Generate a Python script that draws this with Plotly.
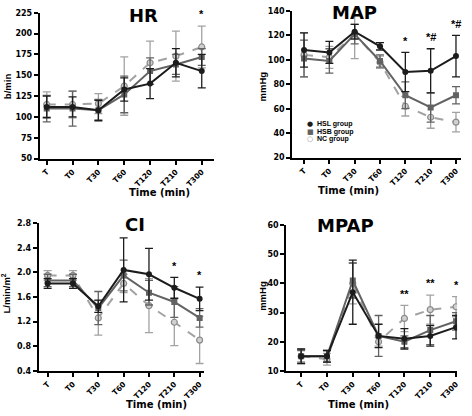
import plotly.graph_objects as go

times = ["T", "T0", "T30", "T60", "T120", "T210", "T300"]
groups = ["HSL group", "HSB group", "NC group"]

hr_hsl = [112, 112, 108, 133, 140, 165, 155]
hr_hsb = [110, 110, 108, 127, 155, 163, 172]
hr_nc = [115, 115, 116, 137, 165, 173, 184]
hr_hsl_err = [13, 12, 12, 14, 18, 17, 20]
hr_hsb_err = [16, 21, 13, 22, 16, 12, 10]
hr_nc_err = [15, 16, 12, 35, 26, 30, 25]
hr_sig = ["", "", "", "", "", "", "*"]

map_hsl = [108, 106, 123, 111, 90, 91, 103]
map_hsb = [101, 99, 121, 99, 71, 61, 71]
map_nc = [104, 102, 121, 98, 62, 53, 49]
map_hsl_err = [14, 9, 6, 3, 16, 18, 17]
map_hsb_err = [15, 10, 8, 5, 11, 12, 7]
map_nc_err = [18, 9, 20, 5, 8, 9, 8]
map_sig = ["", "", "", "", "*", "*#", "*#"]

ci_hsl = [1.82, 1.82, 1.45, 2.04, 1.97, 1.75, 1.57]
ci_hsb = [1.87, 1.87, 1.42, 1.95, 1.67, 1.52, 1.26]
ci_nc = [1.95, 1.95, 1.26, 1.82, 1.46, 1.19, 0.90]
ci_hsl_err = [0.08, 0.08, 0.10, 0.52, 0.42, 0.17, 0.19]
ci_hsb_err = [0.10, 0.10, 0.27, 0.25, 0.20, 0.25, 0.15]
ci_nc_err = [0.08, 0.08, 0.28, 0.15, 0.44, 0.38, 0.38]
ci_sig = ["", "", "", "", "", "*", "*"]

mpap_hsl = [15, 15, 37, 22, 21, 22, 25]
mpap_hsb = [15, 15, 41, 22, 20, 24, 27]
mpap_nc = [15, 14, 40, 20, 28, 31, 32]
mpap_hsl_err = [2.5, 2, 11, 4, 3.5, 3.5, 4]
mpap_hsb_err = [2, 2, 6, 7, 2, 5, 3]
mpap_nc_err = [2.5, 2, 7, 1.5, 4.5, 5, 3.5]
mpap_sig = ["", "", "", "", "**", "**", "*"]

FONT = "Liberation Sans"
HEAVY = "DejaVu Sans"
C_HSL = "#1c1c1c"
C_HSB = "#626262"
C_NC = "#a2a2a2"

panels = [
    dict(title="HR", ytitle="b/min", yr=[50, 225], dt=25, fmt="d",
         data=[(hr_nc, hr_nc_err), (hr_hsb, hr_hsb_err), (hr_hsl, hr_hsl_err)], sig=hr_sig,
         xd=[40/472, 215/472], yd=[1-158/416, 1-9/416], xr=[-0.27, 6.46],
         tpos=(128, 12), ytpos=(7, 84), xtpos=(128, 193)),
    dict(title="MAP", ytitle="mmHg", yr=[20, 140], dt=20, fmt="d",
         data=[(map_nc, map_nc_err), (map_hsb, map_hsb_err), (map_hsl, map_hsl_err)], sig=map_sig,
         xd=[294/472, 464/472], yd=[1-157/416, 1-7/416], xr=[-0.47, 6.2],
         tpos=(381, 9), ytpos=(264, 84), xtpos=(383, 191)),
    dict(title="CI", ytitle="L/min/m<sup>2</sup>", yr=[0.4, 2.8], dt=0.4, fmt=".1f",
         data=[(ci_nc, ci_nc_err), (ci_hsb, ci_hsb_err), (ci_hsl, ci_hsl_err)], sig=ci_sig,
         xd=[39/472, 205/472], yd=[1-375/416, 1-224/416], xr=[-0.35, 6.16],
         tpos=(124, 225), ytpos=(6, 296), xtpos=(125, 409)),
    dict(title="MPAP", ytitle="mmHg", yr=[10, 60], dt=10, fmt="d",
         data=[(mpap_nc, mpap_nc_err), (mpap_hsb, mpap_hsb_err), (mpap_hsl, mpap_hsl_err)], sig=mpap_sig,
         xd=[288/472, 460/472], yd=[1-375/416, 1-226/416], xr=[-0.58, 6.04],
         tpos=(378, 226), ytpos=(264, 298), xtpos=(394, 409)),
]

styles = [
    dict(name=groups[2], color=C_NC, dash="dash", marker=dict(symbol="circle", size=6, color="#d0d0d0", line=dict(color="#8a8a8a", width=1.2))),
    dict(name=groups[1], color=C_HSB, dash="solid", marker=dict(symbol="square", size=6, color=C_HSB)),
    dict(name=groups[0], color=C_HSL, dash="solid", marker=dict(symbol="circle", size=6, color=C_HSL)),
]

fig = go.Figure()
annotations = []
xs = list(range(len(times)))

for i, p in enumerate(panels):
    k = "" if i == 0 else str(i + 1)
    xa, ya = "x" + k, "y" + k
    for (vals, errs), st in zip(p["data"], styles):
        fig.add_trace(go.Scatter(
            x=xs, y=vals, mode="lines+markers", name=st["name"], showlegend=False,
            line=dict(color=st["color"], width=2, dash=st["dash"]),
            marker=st["marker"],
            error_y=dict(type="data", array=errs, visible=True, color=st["color"], thickness=1.3, width=4),
            xaxis=xa, yaxis=ya,
        ))
    rng = p["yr"][1] - p["yr"][0]
    for j, s in enumerate(p["sig"]):
        if s:
            top = max(v[j] + e[j] for v, e in p["data"])
            annotations.append(dict(x=j, y=top + 0.08 * rng, xref=xa, yref=ya, text="<b>" + s + "</b>",
                                    showarrow=False, font=dict(family=FONT, size=11, color="black"),
                                    yanchor="middle"))
    axis_common = dict(showline=True, linecolor="black", linewidth=2, ticks="outside", ticklen=4,
                       tickwidth=1.5, tickcolor="black", showgrid=False, zeroline=False)
    fig.update_layout(**{
        "xaxis" + k: dict(domain=p["xd"], range=p["xr"], tickvals=xs, ticktext=times, tickangle=-45,
                          anchor=ya, tickfont=dict(family=HEAVY, size=7.5, color="black", weight="bold"),
                          **axis_common),
        "yaxis" + k: dict(domain=p["yd"], range=p["yr"], dtick=p["dt"], tick0=p["yr"][0],
                          tickformat=p["fmt"], anchor=xa,
                          tickfont=dict(family=HEAVY, size=8, color="black", weight="bold"),
                          **axis_common),
    })
    annotations.append(dict(x=p["tpos"][0] / 472, y=1 - p["tpos"][1] / 416, xref="paper", yref="paper",
                            text="<b>" + p["title"] + "</b>", showarrow=False,
                            font=dict(family=HEAVY, size=18, color="black"), yanchor="middle"))
    annotations.append(dict(x=p["ytpos"][0] / 472, y=1 - p["ytpos"][1] / 416, xref="paper", yref="paper",
                            text="<b>" + p["ytitle"] + "</b>", showarrow=False, textangle=-90,
                            font=dict(family=FONT, size=9.5, color="black"), xanchor="center", yanchor="middle"))
    annotations.append(dict(x=p["xtpos"][0] / 472, y=1 - p["xtpos"][1] / 416, xref="paper", yref="paper",
                            text="<b>Time (min)</b>", showarrow=False,
                            font=dict(family=HEAVY, size=10, color="black"), yanchor="middle"))

# legend inside MAP panel
leg_items = [("●", C_HSL, groups[0]), ("■", C_HSB, groups[1]), ("○", "#8a8a8a", groups[2])]
for r, (sym, col, name) in enumerate(leg_items):
    yy = 1 - (123 + r * 7.5) / 416
    annotations.append(dict(x=312 / 472, y=yy, xref="paper", yref="paper", text=sym, showarrow=False,
                            font=dict(family="DejaVu Sans", size=7, color=col), xanchor="center", yanchor="middle"))
    annotations.append(dict(x=317 / 472, y=yy, xref="paper", yref="paper", text="<b>" + name + "</b>",
                            showarrow=False, font=dict(family=FONT, size=7, color="black"),
                            xanchor="left", yanchor="middle"))

fig.update_layout(width=472, height=416, margin=dict(l=0, r=0, t=0, b=0),
                  paper_bgcolor="white", plot_bgcolor="white", annotations=annotations,
                  showlegend=False)
fig.write_html("out.html", config={"displayModeBar": False},
               post_script="document.body.style.margin='0';document.body.style.overflow='hidden';")
